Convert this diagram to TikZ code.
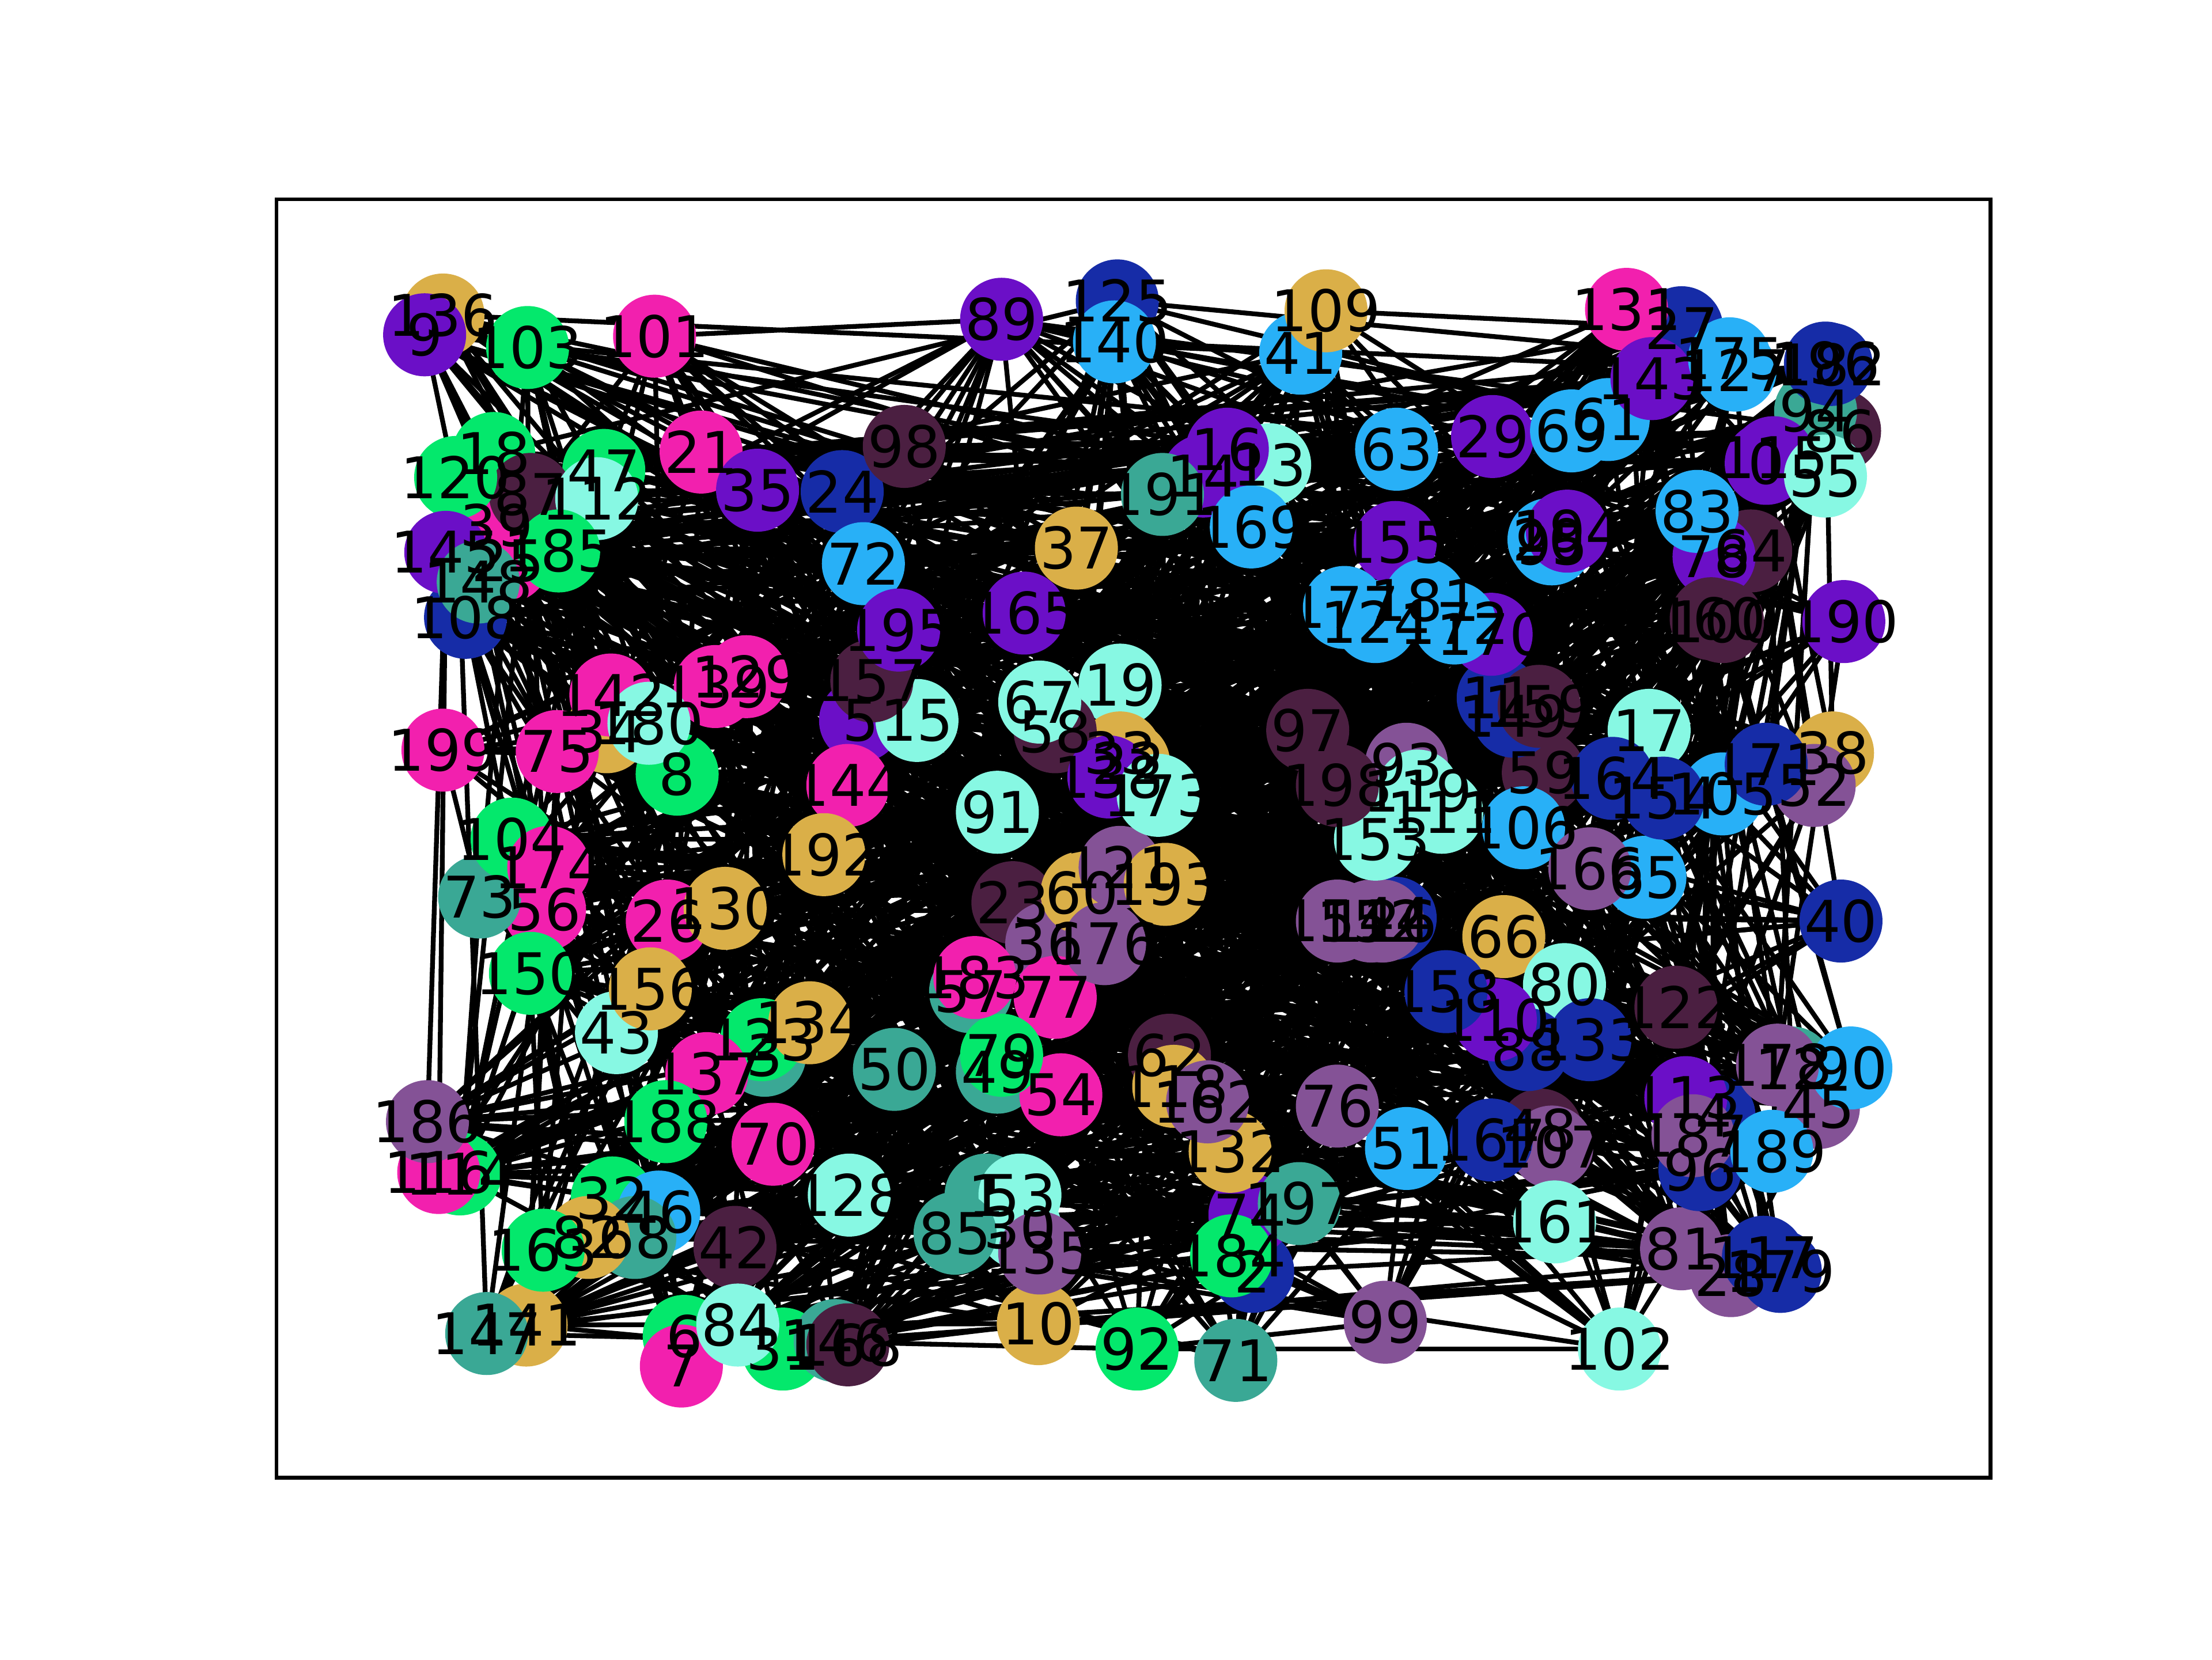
\documentclass[tikz,border=0pt]{standalone}
\usepackage{fontspec}
\setmainfont{DejaVu Sans}
\usepackage{xcolor}
\definecolor{cgold}{RGB}{218,175,72}
\definecolor{cpurple}{RGB}{107,15,199}
\definecolor{cgreen}{RGB}{4,232,108}
\definecolor{cpink}{RGB}{242,32,174}
\definecolor{caqua}{RGB}{135,248,227}
\definecolor{cblue}{RGB}{22,44,167}
\definecolor{csky}{RGB}{40,176,247}
\definecolor{cteal}{RGB}{58,168,149}
\definecolor{cmaroon}{RGB}{75,31,65}
\definecolor{cmauve}{RGB}{132,82,150}
\pgfdeclarelayer{edges}
\pgfsetlayers{edges,main}

\begin{document}
\begin{tikzpicture}[x=0.010367cm, y=-0.010376cm,
  vertex/.style={circle, inner sep=0pt, minimum size=0.6096cm, draw=none},
  vlabel/.style={inner sep=0pt, font=\fontsize{12}{14}\selectfont},
  link/.style={line width=1pt, black}]% units: pixels of a 1568 x 1175 sheet
\useasboundingbox (0,0) rectangle (1568,1175);
% axes box
\draw[line width=0.8pt] (196,141) rectangle (1411,1046);
% vertices
\foreach \n/\x/\y/\c in {
0/1252/328/cpurple, 1/699/846/cteal, 2/888/900/cblue, 3/542/747/cteal, 4/1215/790/cblue,
5/610/510/cpurple, 6/485/946/cgreen, 7/483/967/cpink, 8/480/548/cgreen, 10/736/937/cgold,
11/1062/494/cblue, 12/1270/756/cteal, 13/900/329/caqua, 14/853/337/cpurple, 15/650/510/caqua,
16/870/318/cpurple, 17/1169/517/caqua, 18/350/321/cgreen, 19/794/485/caqua, 20/1098/382/csky,
21/497/320/cpink, 22/800/540/cgold, 23/718/639/cmaroon, 24/597/348/cblue, 25/360/397/cpink,
26/473/652/cpink, 27/1192/232/cblue, 28/1227/903/cmauve, 29/1058/309/cpurple, 30/723/869/caqua,
31/555/955/cgreen, 32/434/848/cgreen, 33/794/533/cgold, 34/430/518/cgold, 35/537/347/cpurple,
36/742/668/cmauve, 37/763/388/cgold, 38/1299/533/cgold, 39/352/372/cpink, 40/1305/652/cblue,
41/922/250/csky, 42/521/883/cmaroon, 43/437/731/caqua, 44/989/650/cblue, 45/1289/784/cmauve,
46/467/858/csky, 47/428/333/cgreen, 48/1092/800/cmaroon, 49/707/759/cteal, 50/634/757/cteal,
51/997/813/csky, 52/1286/556/cmauve, 53/723/846/caqua, 54/752/775/cpink,
56/386/644/cpink, 57/688/702/cteal, 58/748/518/cmaroon, 59/1094/547/cmaroon, 60/767/632/cgold,
61/1140/297/csky, 62/829/747/cmaroon, 63/990/318/csky, 64/1241/390/cmaroon, 65/1166/621/csky,
66/1066/663/cgold, 67/737/497/caqua, 68/450/876/cteal, 69/1114/305/csky, 70/548/810/cpink,
71/876/963/cteal, 72/612/399/csky, 73/340/635/cteal, 74/886/860/cpurple, 75/395/532/cpink,
76/948/783/cmauve, 77/748/706/cpink, 78/1215/394/cpurple, 79/710/747/cgreen, 80/1109/697/caqua,
81/1192/884/cmauve, 82/417/876/cgold, 83/1203/362/csky, 84/523/938/caqua, 85/677/873/cteal,
86/1304/305/cmaroon, 87/376/350/cmaroon, 88/1083/743/cblue, 89/710/226/cpurple, 90/1312/756/csky,
91/707/575/caqua, 92/806/955/cgreen, 93/997/541/cmauve, 94/1287/291/cteal, 95/1100/385/csky,
96/1205/828/cblue, 97/927/517/cmaroon, 98/641/316/cmaroon, 99/982/936/cmauve, 100/1221/440/cmaroon,
101/464/238/cpink, 102/1148/955/caqua, 104/363/594/cgreen, 105/1221/562/csky,
106/1080/586/csky, 107/1100/812/cmauve, 108/330/437/cblue, 109/940/220/cgold, 110/1060/722/cpurple,
111/1022/575/caqua, 112/423/353/caqua, 113/1195/777/cpurple, 114/326/831/cgreen, 115/1257/324/cpurple,
116/311/830/cpink, 117/1250/890/cblue, 118/832/769/cgold, 119/1005/560/caqua, 120/323/338/cgreen,
121/794/614/cmauve, 122/1188/713/cmaroon, 123/540/736/cgreen, 124/975/440/csky, 125/792/213/cblue,
126/980/652/cmauve, 127/1230/262/csky, 128/602/846/caqua, 129/529/479/cpink, 130/514/643/cgold,
131/1153/219/cpink, 132/872/815/cgold, 133/1127/736/cblue, 134/574/724/cgold, 135/737/887/cmauve,
136/314/223/cgold, 137/501/760/cpink, 138/786/550/cpurple, 139/507/486/cpink, 140/790/242/csky,
141/373/938/cgold, 142/433/492/cpink, 143/1171/268/cpurple, 144/601/556/cpink, 145/316/391/cpurple,
146/592/949/cteal, 147/345/944/cteal, 148/339/412/cteal, 149/1073/507/cblue, 150/376/689/cgreen,
151/948/652/cmauve, 152/972/652/cmauve, 153/975/594/caqua, 154/1179/565/cblue, 155/989/384/cpurple,
156/461/700/cgold, 157/618/482/cmaroon, 158/1025/702/cblue, 159/1091/500/cmaroon, 160/1213/438/cmaroon,
161/1102/865/caqua, 162/856/780/cmauve, 163/385/885/cgreen, 164/1143/551/cblue, 165/726/434/cpurple,
166/1127/615/cmauve, 167/1057/807/cblue, 168/601/952/cmaroon, 169/887/373/csky, 170/1057/449/cpurple,
171/1252/541/cblue, 172/1031/441/csky, 173/821/563/caqua, 174/389/614/cpink, 175/1226/254/csky,
176/783/668/cmauve, 177/953/430/csky, 178/1260/754/cmauve, 179/1262/900/cblue, 180/460/512/caqua,
181/1010/425/csky, 182/1298/258/cblue, 183/691/692/cpink, 184/873/889/cgreen, 185/396/390/cgreen,
186/303/794/cmauve, 187/1200/804/cmauve, 188/472/794/cgreen, 189/1256/815/csky, 190/1307/440/cpurple,
191/824/350/cteal, 192/584/605/cgold, 193/826/626/cgold, 194/1111/376/cpurple, 195/637/446/cpurple,
196/1294/257/cblue, 197/921/852/cteal, 198/948/556/cmaroon, 199/314/531/cpink,
103/374/246/cgreen, 9/301/237/cpurple, 55/1294/337/caqua}
  \node[vertex, fill=\c] (n\n) at (\x,\y) {};
% vertex labels
\foreach \n in {0,...,199}
  \node[vlabel] (l\n) at (n\n) {\n};
% links
\pgfmathsetseed{4711}
\begin{pgfonlayer}{edges}
\foreach \i in {0,...,199}{
  \foreach \k in {1,...,8}{
    \pgfmathrandominteger{\j}{0}{199}
    \ifnum\i=\j\relax\else\draw[link] (n\i.center) -- (n\j.center);\fi
  }
}
\end{pgfonlayer}
\end{tikzpicture}
\end{document}
